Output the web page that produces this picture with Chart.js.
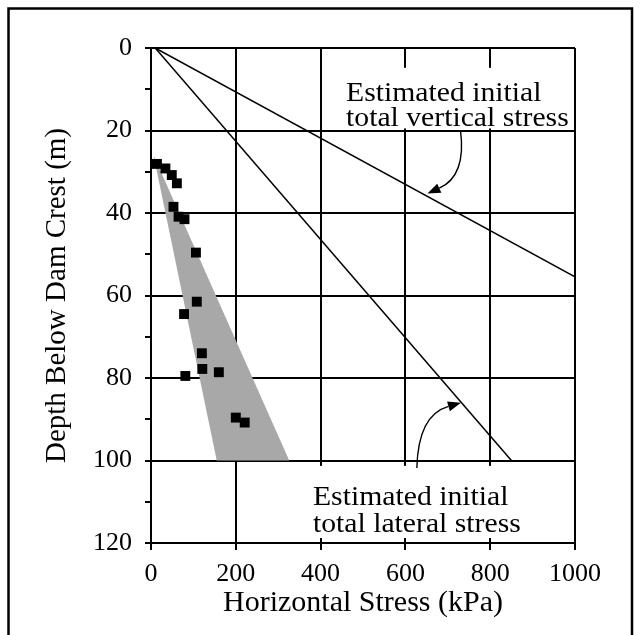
<!DOCTYPE html>
<html><head><meta charset="utf-8">
<script src="https://cdn.jsdelivr.net/npm/chart.js@4.4.0/dist/chart.umd.min.js"></script>
<style>html,body{margin:0;padding:0;background:#fff}#wrap{width:641px;height:635px;position:relative}</style>
</head><body><div id="wrap"><canvas id="c" width="641" height="635"></canvas></div>
<script>
// ---- data ----
const xTickStep = 200, xMin = 0, xMax = 1000;
const yTickStep = 20, yMin = 0, yMax = 120;
const measuredStress = [14, 34, 49, 61, 53, 65, 79, 106, 108, 78, 120, 121, 160, 81, 200, 221];
const measuredDepth  = [28.1, 29.2, 30.8, 32.8, 38.5, 40.9, 41.5, 49.6, 61.5, 64.5, 74, 77.8, 78.6, 79.5, 89.6, 90.8];
const verticalStress = [10, 1000];
const verticalDepth  = [0, 55.5];
const lateralStress  = [10, 850];
const lateralDepth   = [0, 100];
const bandStress     = [6, 155, 326, 6];
const bandDepth      = [26, 100, 100, 26];
const labelVertical  = ['Estimated initial', 'total vertical stress'];
const labelLateral   = ['Estimated initial', 'total lateral stress'];
const xTitle = 'Horizontal Stress (kPa)';
const yTitle = 'Depth Below Dam Crest (m)';

const zip = (a, b) => a.map((v, i) => ({x: v, y: b[i]}));
const FONT = "'Liberation Serif', 'Times New Roman', serif";

const decor = {
  id: 'decor',
  beforeDraw(chart) {
    const c = chart.ctx;
    c.save(); c.fillStyle = '#fff'; c.fillRect(0, 0, chart.width, chart.height); c.restore();
  },
  beforeDatasetsDraw(chart) {
    const c = chart.ctx, xs = chart.scales.x, ys = chart.scales.y, ca = chart.chartArea;
    const X = v => xs.getPixelForValue(v), Y = v => ys.getPixelForValue(v);
    c.save();
    c.fillStyle = '#fff';
    // label backgrounds (cover the grid)
    c.fillRect(X(450), Y(4.8), ca.right - 1.5 - X(450), Y(19.5) - Y(4.8));
    c.fillRect(X(354), Y(101.3), ca.right - 1.5 - X(354), Y(118.8) - Y(101.3));
    // label text
    c.fillStyle = '#000';
    c.font = "27px " + FONT;
    c.textBaseline = 'alphabetic';
    const drawText = (s, x, y) => { c.save(); c.translate(x, y); c.scale(1.1, 1); c.fillText(s, 0, 0); c.restore(); };
    drawText(labelVertical[0], X(460), Y(12.9));
    drawText(labelVertical[1], X(460), Y(19.0));
    drawText(labelLateral[0], X(382), Y(110.9));
    drawText(labelLateral[1], X(382), Y(117.4));
    // arrows
    const arrow = (p0, p1, p2) => {
      const a = {x: X(p0[0]), y: Y(p0[1])}, b = {x: X(p1[0]), y: Y(p1[1])}, e = {x: X(p2[0]), y: Y(p2[1])};
      c.strokeStyle = '#000'; c.lineWidth = 1.4;
      const ang = Math.atan2(e.y - b.y, e.x - b.x);
      const L = 13, W = 5;
      const bx = e.x - L * Math.cos(ang), by = e.y - L * Math.sin(ang);
      c.beginPath(); c.moveTo(a.x, a.y); c.quadraticCurveTo(b.x, b.y, bx, by); c.stroke();
      c.beginPath();
      c.moveTo(e.x, e.y);
      c.lineTo(bx + W * Math.sin(ang), by - W * Math.cos(ang));
      c.lineTo(bx - W * Math.sin(ang), by + W * Math.cos(ang));
      c.closePath(); c.fillStyle = '#000'; c.fill();
    };
    arrow([730, 20.0], [744, 31], [652, 35.3]);
    arrow([627, 101.8], [630, 89], [731, 86]);
    c.restore();
  },
  afterDraw(chart) {
    const c = chart.ctx;
    c.save(); c.strokeStyle = '#000'; c.lineWidth = 2.5;
    c.beginPath(); c.moveTo(8.5, 640); c.lineTo(8.5, 8.5); c.lineTo(632, 8.5); c.lineTo(632, 640); c.stroke();
    c.restore();
  }
};

new Chart(document.getElementById('c'), {
  type: 'scatter',
  data: {
    datasets: [
      { label: 'measured', data: zip(measuredStress, measuredDepth), pointStyle: 'rect', pointRadius: 7,
        backgroundColor: '#000', borderColor: '#000', borderWidth: 0 },
      { type: 'line', label: 'vertical', data: zip(verticalStress, verticalDepth), borderColor: '#000', borderWidth: 1.5,
        pointRadius: 0, fill: false, tension: 0 },
      { type: 'line', label: 'lateral', data: zip(lateralStress, lateralDepth), borderColor: '#000', borderWidth: 1.5,
        pointRadius: 0, fill: false, tension: 0 },
      { type: 'line', label: 'band', data: zip(bandStress, bandDepth), borderWidth: 0, borderColor: 'rgba(0,0,0,0)',
        backgroundColor: '#a8a8a8', pointRadius: 0, fill: 'shape', tension: 0 }
    ]
  },
  options: {
    responsive: false, animation: false, devicePixelRatio: 1,
    layout: { padding: { top: 48, right: 66, bottom: 14, left: 40 } },
    plugins: { legend: { display: false }, tooltip: { enabled: false } },
    scales: {
      x: {
        type: 'linear', min: xMin, max: xMax, position: 'bottom',
        afterFit: s => { s.height = 78; },
        ticks: { stepSize: xTickStep, color: '#000', font: { family: FONT, size: 26 }, padding: 9, maxRotation: 0,
          callback: v => String(v) },
        grid: { color: '#000', lineWidth: 2, tickLength: 7, tickColor: '#000' },
        border: { color: '#000', width: 2 },
        title: { display: true, text: xTitle, color: '#000', font: { family: FONT, size: 30 }, padding: { top: 0, bottom: 0 } }
      },
      y: {
        type: 'linear', min: yMin, max: yMax, reverse: true,
        afterFit: s => { s.width = 111; },
        ticks: { stepSize: yTickStep / 2, color: '#000', font: { family: FONT, size: 26 }, padding: 13,
          callback: v => (v % yTickStep === 0 ? String(v) : '') },
        grid: { color: ctx => (ctx.tick && ctx.tick.value % yTickStep === 0 ? '#000' : 'rgba(0,0,0,0)'),
          lineWidth: 2, tickLength: 6, tickColor: '#000' },
        border: { color: '#000', width: 2 },
        title: { display: true, text: yTitle, color: '#000', font: { family: FONT, size: 29 }, padding: { top: 0, bottom: 0 } }
      }
    }
  },
  plugins: [decor]
});
</script></body></html>
